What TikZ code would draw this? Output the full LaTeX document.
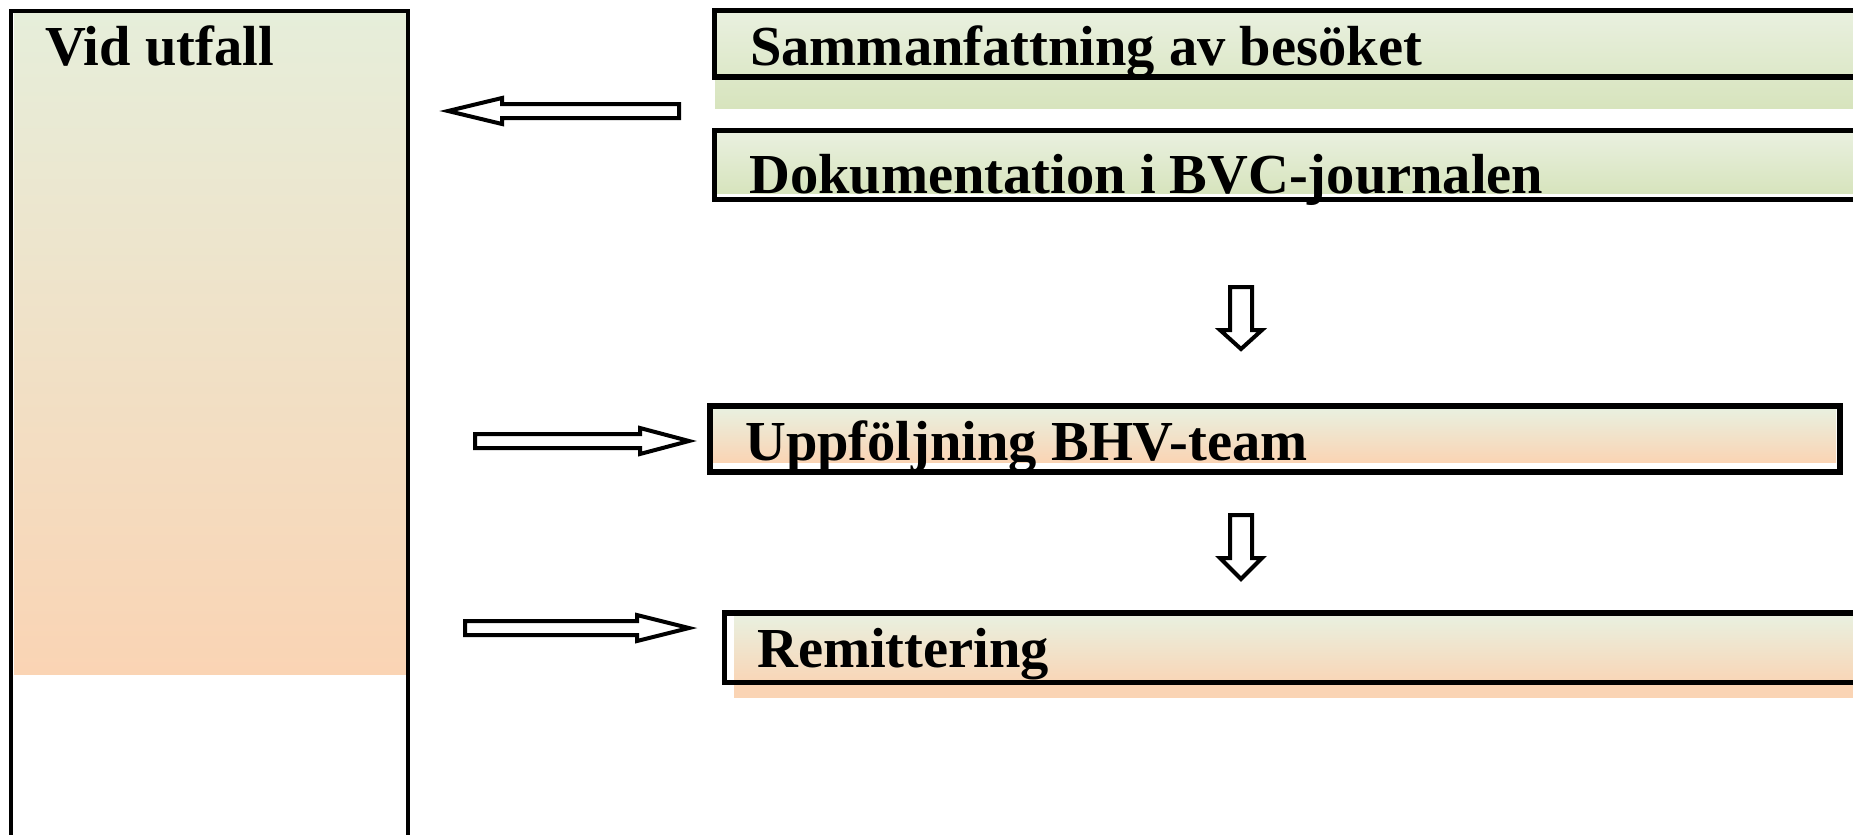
\documentclass[tikz,border=0pt]{standalone}
\usepackage{fontspec}
\setmainfont{Liberation Serif}
\definecolor{ltop}{RGB}{230,238,218}
\definecolor{gtop}{RGB}{233,240,223}
\definecolor{gbot}{RGB}{215,228,189}
\definecolor{peach}{RGB}{250,212,180}
\begin{document}
\begin{tikzpicture}[x=1pt,y=-1pt,
  lbl/.style={anchor=base west, inner sep=0pt, font=\fontsize{56.5}{60}\selectfont\bfseries},
  frame/.style={draw=black, line width=5.5pt},
  barrow/.style={draw=black, fill=white, line width=4pt, line join=miter}]
\useasboundingbox (0,0) rectangle (1853,835);
\clip (0,0) rectangle (1853,835);
% left column
\shade[top color=ltop, bottom color=peach] (14,13) rectangle (406,674);
\draw[line width=4pt] (11,845) -- (11,10.5) -- (408,10.5) -- (408,845);
% box 1
\shade[top color=gtop, bottom color=gbot] (715,12) rectangle (1853,108);
\draw[frame] (714.5,10.5) rectangle (1870,77);
% box 2
\shade[top color=gtop, bottom color=gbot] (717,133) rectangle (1853,193);
\draw[frame] (714.5,130.5) rectangle (1870,199.5);
% box 3
\shade[top color=gtop, bottom color=peach] (713,409) rectangle (1836,462);
\draw[frame] (710,406) rectangle (1840,472);
% box 4
\shade[top color=gtop, bottom color=peach] (734,616) rectangle (1853,686);
\fill[peach] (734,686) rectangle (1853,698);
\draw[frame] (724.5,613) rectangle (1870,682.5);
% texts
\node[lbl] (vid) at (45,65) {Vid utfall};
\node[lbl] (samm) at (750,65) {Sammanfattning av besöket};
\node[lbl] (dok) at (749,193) {Dokumentation i BVC-journalen};
\node[lbl] (upp) at (745,460) {Uppföljning BHV-team};
\node[lbl] (rem) at (757,667) {Remittering};
% block arrows
\draw[barrow] (679,104) -- (502,104) -- (502,98) -- (448,111) -- (502,124) -- (502,118) -- (679,118) -- cycle;
\draw[barrow] (475,434) -- (640,434) -- (640,428) -- (689,441) -- (640,454) -- (640,448) -- (475,448) -- cycle;
\draw[barrow] (465,621) -- (637,621) -- (637,615) -- (689,628) -- (637,641) -- (637,635) -- (465,635) -- cycle;
\draw[barrow] (1230,287) -- (1252,287) -- (1252,330) -- (1262,330) -- (1241,349) -- (1220,330) -- (1230,330) -- cycle;
\draw[barrow] (1230,515) -- (1252,515) -- (1252,558) -- (1262,558) -- (1241,579) -- (1220,558) -- (1230,558) -- cycle;
\end{tikzpicture}
\end{document}
